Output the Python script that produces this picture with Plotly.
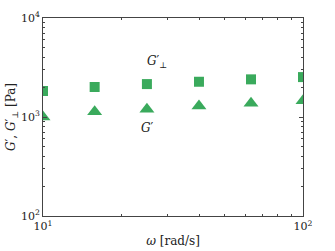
import plotly.graph_objects as go

# 数据
omega = [10, 15.8, 25.1, 39.8, 63.1, 100]
g_perp = [1830, 2010, 2150, 2270, 2400, 2530]
g_prime = [1000, 1130, 1200, 1290, 1375, 1460]

x_tickvals = [10, 100]
x_ticktext = ['10<sup>1</sup>', '10<sup>2</sup>']
x_minor = [20, 30, 40, 50, 60, 70, 80, 90]
y_tickvals = [100, 1000, 10000]
y_ticktext = ['10<sup>2</sup>', '10<sup>3</sup>', '10<sup>4</sup>']
y_minor = [200, 300, 400, 500, 600, 700, 800, 900,
           2000, 3000, 4000, 5000, 6000, 7000, 8000, 9000]

GREEN = '#3aaa5c'
AXIS = '#444444'
FONT = 'DejaVu Serif'

fig = go.Figure()

fig.add_trace(go.Scatter(
    x=omega, y=g_perp, mode='markers', name="G'⊥",
    marker=dict(symbol='square', size=10, color=GREEN),
))
fig.add_trace(go.Scatter(
    x=omega, y=g_prime, mode='markers', name="G'",
    marker=dict(symbol='triangle-up', size=13, color=GREEN),
))

# 曲线标注 (log 坐标)
fig.add_annotation(x=1.44, y=3.556, xref='x', yref='y', text="<i>G</i>′<sub>⊥</sub>",
                   showarrow=False, font=dict(family=FONT, size=12, color='#222'))
fig.add_annotation(x=1.40, y=2.889, xref='x', yref='y', text="<i>G</i>′",
                   showarrow=False, font=dict(family=FONT, size=12, color='#222'))


def axis_style(minor_vals):
    return dict(
        type='log', showgrid=False, zeroline=False, automargin=False,
        showline=True, linecolor=AXIS, linewidth=1, mirror='allticks',
        ticks='inside', ticklen=4, tickcolor=AXIS,
        tickfont=dict(family=FONT, size=11, color='#222'),
        minor=dict(tickmode='array', tickvals=minor_vals, ticks='inside',
                   ticklen=2, tickcolor=AXIS, showgrid=False),
    )


fig.update_layout(
    width=335, height=251,
    margin=dict(l=43, r=32, t=18, b=35),
    paper_bgcolor='white', plot_bgcolor='white',
    showlegend=False,
    font=dict(family=FONT, color='#222'),
    xaxis=dict(
        **axis_style(x_minor), range=[1, 2],
        tickvals=x_tickvals, ticktext=x_ticktext,
        title=dict(text='<i>ω</i> [rad/s]', font=dict(family=FONT, size=12), standoff=4),
    ),
    yaxis=dict(
        **axis_style(y_minor), range=[2, 4],
        tickvals=y_tickvals, ticktext=y_ticktext,
        title=dict(text="<i>G</i>′, <i>G</i>′<sub>⊥</sub> [Pa]", font=dict(family=FONT, size=12), standoff=2),
    ),
)

# 去掉页面默认边距和工具栏
fig.write_html("out.html", config={'displayModeBar': False},
               post_script="document.body.style.margin='0';")
